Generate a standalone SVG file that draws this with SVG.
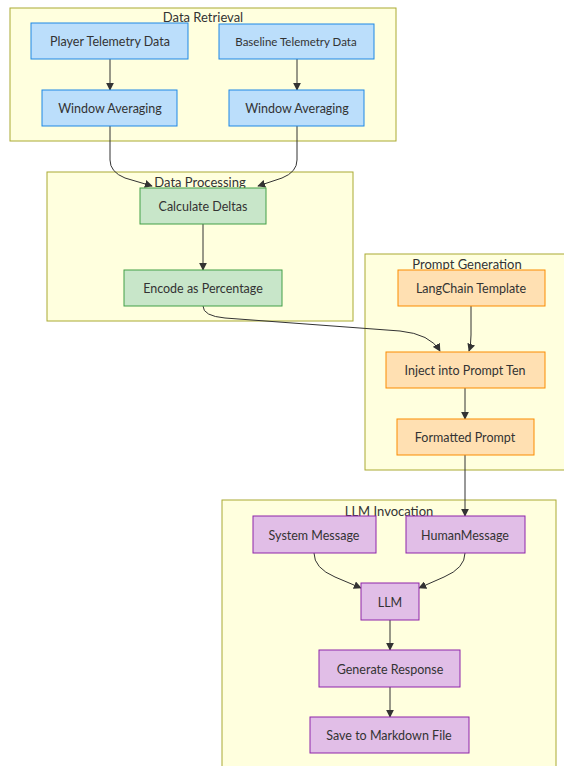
<svg xmlns="http://www.w3.org/2000/svg" width="564" height="766" viewBox="0 0 564 766">
<defs>
<marker id="arr" viewBox="0 0 10 10" refX="9" refY="5" markerWidth="8" markerHeight="8" markerUnits="userSpaceOnUse" orient="auto">
<path d="M0,0 L10,5 L0,10 z" fill="#333"/>
</marker>
</defs>
<style>
text{font-family:Lato,"Liberation Sans",sans-serif;fill:#333;text-anchor:middle;dominant-baseline:central;font-size:12.5px}
.cl{fill:#ffffde;stroke:#aaaa33;stroke-width:1}
.ct{font-size:13px}
.b{fill:#bbdefb;stroke:#1e88e5;stroke-width:1}
.g{fill:#c8e6c9;stroke:#43a047;stroke-width:1}
.o{fill:#ffe0b2;stroke:#fb8c00;stroke-width:1}
.p{fill:#e1bee7;stroke:#8e24aa;stroke-width:1}
.e{fill:none;stroke:#333;stroke-width:1;marker-end:url(#arr)}
</style>
<g id="clusters">
<g id="cluster-retrieval"><rect class="cl" x="10" y="8" width="386" height="133"/><text class="ct" x="203" y="17">Data Retrieval</text></g>
<g id="cluster-processing"><rect class="cl" x="47" y="172" width="306" height="149"/><text class="ct" x="200" y="182">Data Processing</text></g>
<g id="cluster-prompt"><rect class="cl" x="365" y="254" width="204" height="216"/><text class="ct" x="467" y="264">Prompt Generation</text></g>
<g id="cluster-llm"><rect class="cl" x="222" y="500" width="334" height="275"/><text class="ct" x="389" y="511">LLM Invocation</text></g>
</g>
<g id="connectors">
<path class="e" d="M110,59 L110,90"/>
<path class="e" d="M297,59 L297,90"/>
<path class="e" d="M110,126 L110,160 Q110,172 125,178 L152,186"/>
<path class="e" d="M297,126 L297,160 Q297,172 282,178 L258,186"/>
<path class="e" d="M203,224 L203,270"/>
<path class="e" d="M203,306 Q203,316 225,318 L400,331 Q430,334 440,351"/>
<path class="e" d="M471,306 L471,335 Q471,345 469,351"/>
<path class="e" d="M465,388 L465,419"/>
<path class="e" d="M465,455 L465,516"/>
<path class="e" d="M314,553 Q314,568 335,577 L361,588"/>
<path class="e" d="M465,553 Q465,568 444,577 L419,588"/>
<path class="e" d="M390,620 L390,650"/>
<path class="e" d="M390,687 L390,717"/>
</g>
<g id="node-player"><rect class="b" x="31" y="23" width="157" height="36"/><text x="110" y="41.5">Player Telemetry Data</text></g>
<g id="node-baseline"><rect class="b" x="219" y="24" width="155" height="35"/><text x="296" y="41.5" style="font-size:11.5px">Baseline Telemetry Data</text></g>
<g id="node-wa1"><rect class="b" x="42" y="90" width="135" height="36"/><text x="110" y="108.5">Window Averaging</text></g>
<g id="node-wa2"><rect class="b" x="229" y="90" width="135" height="36"/><text x="297" y="108.5">Window Averaging</text></g>
<g id="node-calc"><rect class="g" x="140" y="188" width="126" height="36"/><text x="203" y="206.5">Calculate Deltas</text></g>
<g id="node-encode"><rect class="g" x="124" y="270" width="158" height="36"/><text x="203" y="288.5">Encode as Percentage</text></g>
<g id="node-langchain"><rect class="o" x="398" y="270" width="147" height="36"/><text x="471" y="288.5">LangChain Template</text></g>
<g id="node-inject"><rect class="o" x="386" y="352" width="159" height="36"/><text x="465" y="370.5">Inject into Prompt Ten</text></g>
<g id="node-formatted"><rect class="o" x="397" y="419" width="137" height="36"/><text x="465" y="437.5">Formatted Prompt</text></g>
<g id="node-system"><rect class="p" x="253" y="516" width="123" height="37"/><text x="314" y="535">System Message</text></g>
<g id="node-human"><rect class="p" x="406" y="516" width="119" height="37"/><text x="465" y="535">HumanMessage</text></g>
<g id="node-llm"><rect class="p" x="361" y="583" width="58" height="37"/><text x="390" y="602">LLM</text></g>
<g id="node-generate"><rect class="p" x="319" y="650" width="141" height="37"/><text x="390" y="669">Generate Response</text></g>
<g id="node-save"><rect class="p" x="310" y="717" width="159" height="36"/><text x="389" y="735.5">Save to Markdown File</text></g>
</svg>
